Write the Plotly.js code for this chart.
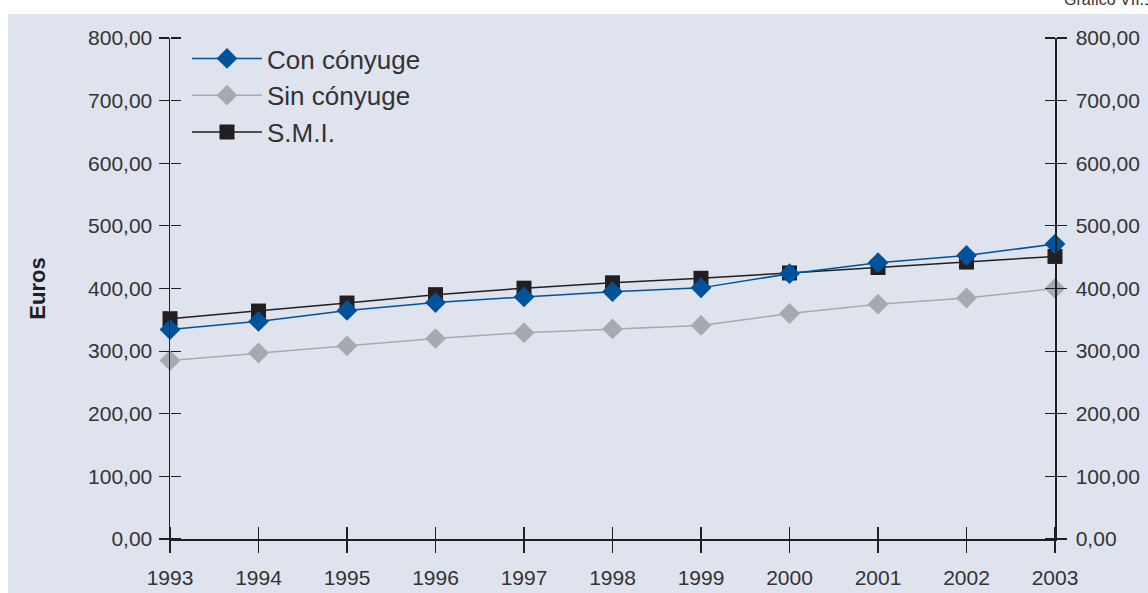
<!DOCTYPE html>
<html>
<head>
<meta charset="utf-8">
<script src="https://cdn.plot.ly/plotly-3.0.1.min.js"></script>
<style>html,body{margin:0;padding:0;background:#fff;}#chart{width:1148px;height:593px;}</style>
</head>
<body>
<div id="chart"></div>
<script>
const years = [1993, 1994, 1995, 1996, 1997, 1998, 1999, 2000, 2001, 2002, 2003];
const conConyuge = [334.5, 347.5, 365.0, 377.5, 386.5, 395.0, 401.0, 423.6, 441.2, 452.7, 470.9];
const sinConyuge = [285.0, 297.0, 308.5, 320.0, 329.5, 335.5, 341.0, 360.1, 374.9, 384.8, 400.1];
const smi = [351.8, 364.0, 376.8, 390.2, 400.5, 409.1, 416.3, 424.8, 433.5, 442.2, 451.2];
const yTicks = [0, 100, 200, 300, 400, 500, 600, 700, 800];
const seriesNames = ['Con cónyuge', 'Sin cónyuge', 'S.M.I.'];

const W = 1148, H = 593;
const L = 170, R = 93, T = 38, B = 54;
const pw = W - L - R, ph = H - T - B;
const px = v => (v - L) / pw;
const py = v => (H - B - v) / ph;

const ink = '#231f20';
const txt = '#333333';
const font = 'Liberation Sans, Arial, Helvetica, sans-serif';

const tCon = {x: years, y: conConyuge, name: seriesNames[0], mode: 'lines+markers', legendgroup: 'a', legendrank: 1, cliponaxis: false,
   line: {color: '#00529b', width: 1.5}, marker: {symbol: 'diamond', size: 16, color: '#00529b'}};
const tSin = {x: years, y: sinConyuge, name: seriesNames[1], mode: 'lines+markers', legendgroup: 'b', legendrank: 2, cliponaxis: false,
   line: {color: '#a7a9ac', width: 1.5}, marker: {symbol: 'diamond', size: 16, color: '#a7a9ac'}};
const tSmi = {x: years, y: smi, name: seriesNames[2], mode: 'lines+markers', legendgroup: 'c', legendrank: 3, cliponaxis: false,
   line: {color: ink, width: 1.5}, marker: {symbol: 'square', size: 15, color: ink}};
// invisible helpers so the overlaid tick-only axes are rendered
const helper = (xa, ya) => ({x: [years[0]], y: [yTicks[0]], xaxis: xa, yaxis: ya, mode: 'markers',
  marker: {opacity: 0, size: 1}, showlegend: false, hoverinfo: 'skip'});
const data = [helper('x2', 'y3'), helper('x', 'y2'), helper('x', 'y4'), tSin, tSmi, tCon];

const yCommon = {range: [0, 800], tickvals: yTicks, tickformat: '.2f', showgrid: false, zeroline: false,
  tickcolor: ink, tickwidth: 1.2, ticklen: 10, fixedrange: true};

const layout = {
  width: W, height: H,
  margin: {l: L, r: R, t: T, b: B},
  paper_bgcolor: '#ffffff',
  plot_bgcolor: 'rgba(0,0,0,0)',
  separators: ',.',
  font: {family: font, color: txt, size: 21},
  showlegend: true,
  legend: {x: px(187), y: py(35), xanchor: 'left', yanchor: 'top', bgcolor: 'rgba(0,0,0,0)',
    font: {size: 26, color: txt, family: font}, traceorder: 'normal', tracegroupgap: 5, itemwidth: 70},
  xaxis: {range: [1993, 2003], tickvals: years, ticks: 'outside', ticklen: 12, tickcolor: ink, tickwidth: 1.2,
    showline: true, linecolor: ink, linewidth: 1.5, showgrid: false, zeroline: false,
    tickfont: {size: 21, color: txt}, anchor: 'y', ticklabelstandoff: 7},
  xaxis2: {range: [1993, 2003], tickvals: years, ticks: 'outside', ticklen: 12, tickcolor: ink, tickwidth: 1.2,
    showticklabels: false, showline: false, showgrid: false, zeroline: false, overlaying: 'x',
    anchor: 'free', position: 0, side: 'top'},
  yaxis: Object.assign({}, yCommon, {ticks: 'outside', showline: true, linecolor: ink, linewidth: 1.5,
    tickfont: {size: 21, color: txt}, anchor: 'x', side: 'left', ticklabelstandoff: 2,
    title: {text: 'Euros', font: {size: 22, color: ink, family: font, weight: 'bold'}, standoff: 36}}),
  yaxis2: Object.assign({}, yCommon, {ticks: 'outside', showline: true, linecolor: ink, linewidth: 1.5,
    tickfont: {size: 21, color: txt}, overlaying: 'y', anchor: 'x', side: 'right', ticklabelstandoff: 5}),
  yaxis3: Object.assign({}, yCommon, {ticks: 'outside', showticklabels: false, showline: false,
    overlaying: 'y', anchor: 'free', position: 0, side: 'right'}),
  yaxis4: Object.assign({}, yCommon, {ticks: 'outside', showticklabels: false, showline: false,
    overlaying: 'y', anchor: 'free', position: 1, side: 'left'}),
  shapes: [
    {type: 'rect', xref: 'paper', yref: 'paper', x0: px(8), x1: px(W + 5), y0: py(H + 5), y1: py(14),
     fillcolor: '#dee3ee', line: {width: 0}, layer: 'below'}
  ],
  annotations: [
    {text: 'Gráfico VII.1', xref: 'paper', yref: 'paper', x: px(1062), y: py(10), xanchor: 'left', yanchor: 'bottom',
     showarrow: false, font: {size: 16, color: txt, family: font}}
  ]
};

Plotly.newPlot('chart', data, layout, {displayModeBar: false, staticPlot: true});
</script>
</body>
</html>
